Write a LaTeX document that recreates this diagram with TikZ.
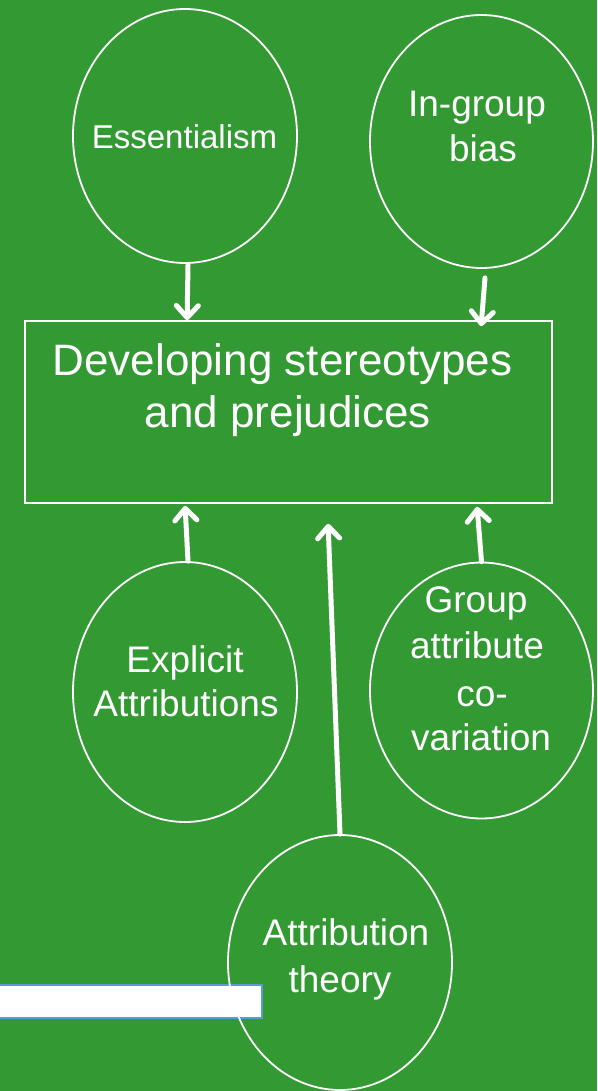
\documentclass[tikz,border=0pt]{standalone}
\usepackage{fontspec}
\setmainfont{Liberation Sans}
\usetikzlibrary{arrows.meta,shapes.geometric,calc}
\definecolor{bg}{RGB}{51,153,51}
\definecolor{barblue}{RGB}{91,155,213}
\begin{document}
\begin{tikzpicture}[x=1pt,y=-1pt,
  bubble/.style={draw=white,line width=1.8pt,ellipse,inner sep=0pt},
  mainbox/.style={draw=white,line width=1.8pt,rectangle,inner sep=0pt},
  lbl/.style={text=white,anchor=base,inner sep=0pt},
  small/.style={font=\fontsize{33}{40}\selectfont},
  mid/.style={font=\fontsize{37}{45}\selectfont},
  big/.style={font=\fontsize{44}{52}\selectfont},
  conn/.style={draw=white,line width=5pt,line cap=round,line join=round,
    -{Straight Barb[length=12pt,width=22pt,line width'=5pt,line cap=round,line join=round]}}]
\fill[bg] (0,0) rectangle (597,1091);
\useasboundingbox (0,0) rectangle (597,1091);

% main box
\node[mainbox,minimum width=527pt,minimum height=182pt] (dev) at (288.5,412) {};
\node[lbl,big] (devA) at (282.5,375) {Developing stereotypes};
\node[lbl,big] (devB) at (288,427) {and prejudices};

% top ellipses
\node[bubble,minimum width=224pt,minimum height=254pt] (ess) at (185,136) {};
\node[lbl,small] (essT) at (184.5,149) {Essentialism};

\node[bubble,minimum width=223pt,minimum height=253pt] (ing) at (481.5,141.5) {};
\node[lbl,mid] (ingA) at (477,117) {In-group};
\node[lbl,mid] (ingB) at (483,162) {bias};

% lower ellipses
\node[bubble,minimum width=224pt,minimum height=260pt] (expl) at (185,692) {};
\node[lbl,mid] (explA) at (185,672) {Explicit};
\node[lbl,mid] (explB) at (186,716) {Attributions};

\node[bubble,minimum width=223pt,minimum height=256pt] (grp) at (481.5,690.5) {};
\node[lbl,mid] (grpA) at (476,612) {Group};
\node[lbl,mid] (grpB) at (477,658) {attribute};
\node[lbl,mid] (grpC) at (482,706) {co-};
\node[lbl,mid] (grpD) at (481,750) {variation};

% white bar at bottom left
\node[rectangle,fill=white,draw=barblue,line width=1.5pt,inner sep=0pt,
      minimum width=266pt,minimum height=33pt] (bar) at (129,1001.5) {};

\node[bubble,minimum width=224pt,minimum height=255pt] (att) at (340,962.5) {};
\node[lbl,mid] (attA) at (346,945) {Attribution};
\node[lbl,mid] (attB) at (340,992) {theory};

% connectors
\draw[conn] ($(ess.south)+(3,1)$) -- ($(dev.north west)+(163,0)$);
\draw[conn] ($(ing.south)+(3.5,9)$) -- ($(dev.north west)+(457,6)$);
\draw[conn] ($(expl.north)+(3,0)$) -- ($(dev.south west)+(161,2)$);
\draw[conn] (att.north) -- ($(dev.south west)+(304,20)$);
\draw[conn] (grp.north) -- ($(dev.south west)+(453,3)$);
\end{tikzpicture}
\end{document}
